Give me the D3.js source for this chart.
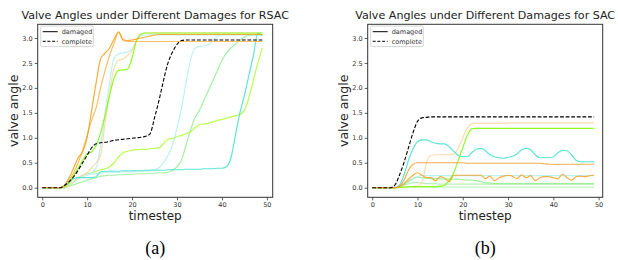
<!DOCTYPE html>
<html>
<head>
<meta charset="utf-8">
<script src="https://cdnjs.cloudflare.com/ajax/libs/d3/7.8.5/d3.min.js"></script>
<style>
  body { margin: 0; background: #fff; }
  svg { display: block; }
  .tick text { font-family: "DejaVu Sans", sans-serif; }
</style>
</head>
<body>
<div id="chart"></div>
<script>
// timesteps 0..49
var steps = d3.range(0, 50);

// ---- RSAC panel ----
var rsacComplete = [0,0,0,0,0,0.05,0.12,0.22,0.35,0.5,0.65,0.8,0.88,0.9,0.91,0.93,0.95,0.96,0.97,0.98,
  0.99,1.0,1.01,1.03,1.08,1.4,1.75,2.15,2.5,2.72,2.87,2.95,2.96,2.96,2.96,2.96,2.96,2.96,2.96,2.96,
  2.96,2.96,2.96,2.96,2.96,2.96,2.96,2.96,2.96,2.96];
var rsacOrange1 = [0,0,0,0,0,0.05,0.2,0.4,0.6,0.72,1.0,1.55,2.1,2.58,2.7,2.8,2.98,3.12,2.97,2.95,
  2.96,2.98,3.0,3.02,3.04,3.06,3.07,3.07,3.07,3.07,3.07,3.07,3.07,3.07,3.07,3.07,3.07,3.07,3.07,3.07,
  3.07,3.07,3.07,3.07,3.07,3.07,3.07,3.07,3.07,3.07];
var rsacOrange2 = [0,0,0,0,0,0.03,0.15,0.3,0.5,0.75,1.05,1.35,1.6,2.0,2.35,2.65,2.9,3.12,2.95,2.93,
  2.93,2.93,2.93,2.93,2.93,2.93,2.93,2.93,2.93,2.93,2.93,2.93,2.93,2.93,2.93,2.93,2.93,2.93,2.93,2.93,
  2.93,2.93,2.93,2.93,2.93,2.93,2.93,2.93,2.93,2.93];
var rsacPeach = [0,0,0,0,0,0,0.05,0.12,0.2,0.25,0.3,0.4,0.5,0.65,1.3,1.9,2.4,2.55,2.58,2.65,
  2.75,2.95,3.08,3.1,3.1,3.1,3.1,3.1,3.1,3.1,3.1,3.1,3.1,3.1,3.1,3.1,3.1,3.1,3.1,3.1,
  3.1,3.1,3.1,3.1,3.1,3.1,3.1,3.1,3.1,3.1];
var rsacLawn = [0,0,0,0,0,0.02,0.1,0.25,0.4,0.55,0.68,0.72,0.85,1.1,1.45,1.85,2.2,2.35,2.36,2.38,
  2.6,2.95,3.08,3.1,3.1,3.1,3.1,3.1,3.1,3.1,3.1,3.1,3.1,3.1,3.1,3.1,3.1,3.1,3.1,3.1,
  3.1,3.1,3.1,3.1,3.1,3.1,3.1,3.1,3.1,3.1];
var rsacPale1 = [0,0,0,0,0,0,0.05,0.12,0.2,0.25,0.28,0.3,0.4,0.85,1.5,2.1,2.6,2.68,2.7,2.72,
  2.78,2.95,3.05,3.06,3.06,3.06,3.06,3.06,3.06,3.06,3.06,3.06,3.06,3.06,3.06,3.06,3.06,3.06,3.06,3.06,
  3.06,3.06,3.06,3.06,3.06,3.06,3.06,3.06,3.06,3.06];
var rsacPale2 = [0,0,0,0,0,0,0.05,0.12,0.18,0.22,0.25,0.27,0.28,0.29,0.3,0.3,0.31,0.31,0.32,0.32,
  0.32,0.33,0.33,0.33,0.34,0.36,0.4,0.5,0.65,0.85,1.2,1.6,2.1,2.55,2.8,2.83,2.84,2.87,2.95,3.03,
  3.07,3.07,3.07,3.07,3.07,3.07,3.07,3.07,3.07,3.07];
var rsacTurq = [0,0,0,0,0,0.02,0.1,0.18,0.2,0.2,0.2,0.2,0.22,0.32,0.33,0.33,0.33,0.33,0.34,0.34,
  0.34,0.34,0.34,0.35,0.35,0.35,0.35,0.35,0.36,0.36,0.36,0.36,0.37,0.37,0.37,0.37,0.38,0.38,0.38,0.39,
  0.39,0.42,0.6,1.05,1.5,1.85,2.25,2.65,3.1,3.05];
var rsacLight = [0,0,0,0,0,0,0.03,0.06,0.09,0.12,0.15,0.18,0.2,0.23,0.24,0.25,0.25,0.26,0.26,0.27,
  0.27,0.28,0.28,0.28,0.29,0.29,0.3,0.3,0.31,0.35,0.42,0.55,0.85,1.15,1.4,1.55,1.75,1.95,2.15,2.35,
  2.55,2.7,2.8,2.88,2.95,3.02,3.05,3.06,3.06,3.06];
var rsacYellow = [0,0,0,0,0,0,0.05,0.12,0.2,0.25,0.28,0.3,0.33,0.36,0.38,0.42,0.5,0.62,0.7,0.73,
  0.75,0.76,0.77,0.77,0.78,0.79,0.8,0.88,0.97,0.99,1.02,1.05,1.08,1.12,1.2,1.26,1.28,1.29,1.32,1.35,
  1.37,1.39,1.42,1.44,1.47,1.55,1.8,2.15,2.5,2.8];

// ---- SAC panel ----
var sacComplete = [0,0,0,0,0,0.05,0.25,0.5,0.8,1.1,1.33,1.4,1.41,1.42,1.42,1.42,1.42,1.42,1.42,1.42,
  1.42,1.42,1.42,1.42,1.42,1.42,1.42,1.42,1.42,1.42,1.42,1.42,1.42,1.42,1.42,1.42,1.42,1.42,1.42,1.42,
  1.42,1.42,1.42,1.42,1.42,1.42,1.42,1.42,1.42,1.42];
var sacTurq = [0,0,0,0,0,0,0.05,0.25,0.55,0.78,0.92,0.96,0.96,0.92,0.89,0.88,0.88,0.82,0.73,0.65,
  0.62,0.62,0.7,0.77,0.79,0.74,0.66,0.62,0.6,0.59,0.61,0.63,0.68,0.76,0.79,0.76,0.66,0.6,0.6,0.6,
  0.62,0.7,0.75,0.74,0.66,0.55,0.52,0.52,0.52,0.52];
var sacPeach = [0,0,0,0,0,0,0.01,0.01,0.02,0.02,0.03,0.1,0.5,0.65,0.66,0.66,0.66,0.66,0.67,0.8,
  1.0,1.2,1.28,1.29,1.29,1.29,1.29,1.29,1.29,1.29,1.3,1.3,1.3,1.3,1.3,1.3,1.3,1.3,1.3,1.3,
  1.3,1.3,1.3,1.3,1.3,1.3,1.3,1.3,1.3,1.3];
var sacLawn = [0,0,0,0,0,0,0.005,0.01,0.02,0.02,0.02,0.02,0.02,0.02,0.02,0.03,0.05,0.15,0.3,0.55,
  0.8,1.05,1.18,1.19,1.19,1.19,1.19,1.19,1.19,1.19,1.19,1.19,1.19,1.19,1.19,1.19,1.19,1.19,1.19,1.19,
  1.19,1.19,1.19,1.19,1.19,1.19,1.19,1.19,1.19,1.19];
var sacOrange1 = [0,0,0,0,0,0,0.03,0.15,0.35,0.47,0.5,0.5,0.5,0.5,0.5,0.5,0.5,0.5,0.5,0.5,
  0.5,0.49,0.49,0.49,0.49,0.49,0.49,0.49,0.49,0.49,0.49,0.49,0.49,0.49,0.49,0.49,0.49,0.49,0.48,0.47,
  0.47,0.47,0.47,0.47,0.47,0.47,0.47,0.47,0.47,0.47];
var sacOrange2 = [0,0,0,0,0,0,0.02,0.08,0.17,0.25,0.3,0.25,0.2,0.2,0.14,0.22,0.19,0.12,0.25,0.25,
  0.25,0.25,0.25,0.25,0.25,0.18,0.23,0.14,0.2,0.23,0.25,0.23,0.18,0.26,0.2,0.24,0.14,0.2,0.22,0.22,
  0.2,0.18,0.27,0.2,0.15,0.22,0.23,0.22,0.24,0.25];
var sacLight1 = [0,0,0,0,0,0,0.02,0.06,0.12,0.18,0.21,0.2,0.19,0.18,0.18,0.18,0.17,0.17,0.17,0.17,
  0.16,0.15,0.15,0.14,0.12,0.1,0.09,0.08,0.08,0.08,0.08,0.08,0.08,0.08,0.08,0.08,0.08,0.08,0.08,0.08,
  0.08,0.08,0.08,0.08,0.08,0.08,0.08,0.08,0.08,0.08];
var sacLight2 = [0,0,0,0,0,0,0,0.01,0.01,0.01,0.01,0.01,0.01,0.01,0.01,0.01,0.01,0.01,0.01,0.01,
  0.01,0.01,0.01,0.01,0.01,0.01,0.01,0.01,0.01,0.01,0.01,0.01,0.01,0.01,0.01,0.01,0.01,0.01,0.01,0.01,
  0.01,0.01,0.01,0.01,0.01,0.01,0.01,0.01,0.01,0.01];
var sacPale = [0,0,0,0,0,0,0.03,0.08,0.14,0.19,0.22,0.24,0.24,0.24,0.24,0.24,0.24,0.24,0.24,0.24,
  0.24,0.24,0.24,0.24,0.24,0.24,0.24,0.24,0.24,0.24,0.24,0.24,0.24,0.24,0.24,0.24,0.24,0.24,0.24,0.24,
  0.24,0.24,0.24,0.24,0.24,0.24,0.24,0.24,0.24,0.24];
var sacLight3 = [0,0,0,0,0,0,0.02,0.05,0.08,0.1,0.1,0.09,0.08,0.08,0.08,0.07,0.07,0.07,0.07,0.07,
  0.07,0.07,0.07,0.07,0.07,0.07,0.07,0.07,0.07,0.07,0.07,0.07,0.07,0.07,0.07,0.07,0.07,0.07,0.07,0.07,
  0.07,0.07,0.07,0.07,0.07,0.07,0.07,0.07,0.07,0.07];

var yTicks = [0.0, 0.5, 1.0, 1.5, 2.0, 2.5, 3.0];
var xTicks = [0, 10, 20, 30, 40, 50];
var legendLabels = ["damaged", "complete"];

var panels = [
  {
    title: "Valve Angles under Different Damages for RSAC",
    caption: "(a)",
    left: 37.7, right: 272.7, xDomain: [-1, 51.3],
    damaged: [
      { v: rsacLight, c: "#90ee90" },
      { v: rsacYellow, c: "#adff2f" },
      { v: rsacPale2, c: "#afeeee" },
      { v: rsacPale1, c: "#afeeee" },
      { v: rsacPeach, c: "#fad7a0" },
      { v: rsacTurq, c: "#40e0d0" },
      { v: rsacLawn, c: "#7cfc00" },
      { v: rsacOrange2, c: "#f7b54a" },
      { v: rsacOrange1, c: "#f5a015" }
    ],
    complete: rsacComplete
  },
  {
    title: "Valve Angles under Different Damages for SAC",
    caption: "(b)",
    left: 367.7, right: 602.7, xDomain: [-1.0, 50.9],
    damaged: [
      { v: sacLight2, c: "#b8f5b8" },
      { v: sacLight3, c: "#a8f0a8" },
      { v: sacLight1, c: "#90ee90" },
      { v: sacPale, c: "#afeeee" },
      { v: sacPeach, c: "#fad7a0" },
      { v: sacLawn, c: "#7cfc00" },
      { v: sacTurq, c: "#40e0d0" },
      { v: sacOrange1, c: "#f0a030" },
      { v: sacOrange2, c: "#f5a020" }
    ],
    complete: sacComplete
  }
];

var W = 618, H = 260;
var plotTop = 24.3, plotBottom = 197.3;

var svg = d3.select("#chart").append("svg")
  .attr("width", W)
  .attr("height", H);

panels.forEach(function(p, pi) {
  var x = d3.scaleLinear().domain(p.xDomain).range([p.left, p.right]);
  // 0.0 and 3.0 sit on the pixel rows
  var y = d3.scaleLinear().domain([0, 3]).range([187.7, 38]);

  var line = d3.line()
    .x(function(d, i) { return x(steps[i]); })
    .y(function(d) { return y(d); })
    .curve(d3.curveMonotoneX);

  var g = svg.append("g");

  g.append("clipPath").attr("id", "clip" + pi)
    .append("rect")
    .attr("x", p.left).attr("y", plotTop)
    .attr("width", p.right - p.left).attr("height", plotBottom - plotTop);

  var plot = g.append("g").attr("clip-path", "url(#clip" + pi + ")");

  p.damaged.forEach(function(s) {
    plot.append("path")
      .datum(s.v)
      .attr("d", line)
      .attr("fill", "none")
      .attr("stroke", s.c)
      .attr("stroke-opacity", 0.85)
      .attr("stroke-width", 1.2);
  });

  plot.append("path")
    .datum(p.complete)
    .attr("d", line)
    .attr("fill", "none")
    .attr("stroke", "#000")
    .attr("stroke-width", 1.1)
    .attr("stroke-dasharray", "3.8,1.8");

  // axes
  var xAxis = g.append("g")
    .attr("transform", "translate(0," + plotBottom + ")")
    .call(d3.axisBottom(x).tickValues(xTicks).tickSize(3).tickPadding(2).tickFormat(d3.format("d")));
  var yAxis = g.append("g")
    .attr("transform", "translate(" + p.left + ",0)")
    .call(d3.axisLeft(y).tickValues(yTicks).tickSize(3).tickPadding(2).tickFormat(d3.format(".1f")));

  [xAxis, yAxis].forEach(function(a) {
    a.select(".domain").remove();
    a.selectAll(".tick line").attr("stroke", "#333").attr("stroke-width", 0.8);
    a.selectAll(".tick text").attr("font-size", "6.5px").attr("fill", "#333");
  });

  // frame
  g.append("rect")
    .attr("x", p.left).attr("y", plotTop)
    .attr("width", p.right - p.left).attr("height", plotBottom - plotTop)
    .attr("fill", "none")
    .attr("stroke", "#333")
    .attr("stroke-width", 1);

  // legend
  var lg = g.append("g").attr("transform", "translate(" + (p.left + 3) + "," + (plotTop + 1.7) + ")");
  lg.append("rect")
    .attr("width", 52.6).attr("height", 20.6)
    .attr("rx", 1.5)
    .attr("fill", "#fff").attr("fill-opacity", 0.8)
    .attr("stroke", "#ccc").attr("stroke-width", 0.8);
  legendLabels.forEach(function(lab, i) {
    var ly = 5.7 + i * 9.6;
    lg.append("line")
      .attr("x1", 2).attr("x2", 17)
      .attr("y1", ly).attr("y2", ly)
      .attr("stroke", "#000").attr("stroke-width", 1)
      .attr("stroke-dasharray", i === 1 ? "3,1.7" : null);
    lg.append("text")
      .attr("x", 21).attr("y", ly + 2.3)
      .attr("font-family", "DejaVu Sans, sans-serif")
      .attr("font-size", "6.5px")
      .attr("fill", "#333")
      .text(lab);
  });

  var cx = (p.left + p.right) / 2;

  g.append("text")
    .attr("x", cx).attr("y", 19)
    .attr("text-anchor", "middle")
    .attr("font-family", "DejaVu Sans, sans-serif")
    .attr("font-size", "11.1px")
    .attr("fill", "#222")
    .text(p.title);

  g.append("text")
    .attr("x", cx).attr("y", 220)
    .attr("text-anchor", "middle")
    .attr("font-family", "DejaVu Sans, sans-serif")
    .attr("font-size", "12px")
    .attr("fill", "#222")
    .text("timestep");

  g.append("text")
    .attr("transform", "translate(" + (p.left - 20) + "," + ((plotTop + plotBottom) / 2) + ") rotate(-90)")
    .attr("text-anchor", "middle")
    .attr("font-family", "DejaVu Sans, sans-serif")
    .attr("font-size", "12.5px")
    .attr("fill", "#222")
    .text("valve angle");

  g.append("text")
    .attr("x", cx).attr("y", 254)
    .attr("text-anchor", "middle")
    .attr("font-family", "Liberation Serif, Times New Roman, serif")
    .attr("font-size", "18px")
    .attr("fill", "#000")
    .text(p.caption);
});
</script>
</body>
</html>
